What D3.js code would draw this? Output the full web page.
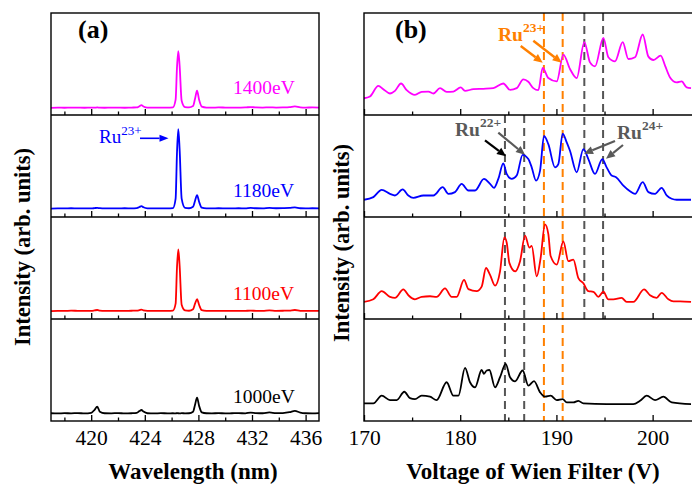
<!DOCTYPE html>
<html><head><meta charset="utf-8">
<script src="https://cdn.jsdelivr.net/npm/d3@7"></script>
<style>
body{margin:0;background:#fff}
svg{display:block}
text{font-family:"Liberation Serif","Times New Roman",serif}
</style>
</head><body>
<svg id="c" width="692" height="486"></svg>
<script>
// ---------- Panel (a) data: wavelength (nm) and normalized intensity ----------
const waveNm = [417,417.5,418,418.5,419,419.5,420,420.25,420.45,420.65,421,421.5,422,422.5,423,423.4,423.6,423.75,423.9,424.2,424.7,425.2,425.7,426.1,426.3,426.4,426.5,426.6,426.75,427.0,427.3,427.6,427.75,427.9,428.05,428.25,428.6,429,429.5,430,430.5,431,431.5,431.9,432.3,432.8,433.3,433.8,434.3,434.8,435.2,435.6,436,436.5,437];
const int1400 = [.070,.073,.071,.073,.072, .071,.073,.072,.074,.072, .071,.073,.072,.071,.073, .074,.086,.096,.084,.073, .072,.073,.072,.075,.15, .46,.627,.48,.14,.078, .075,.088,.16,.238,.15, .082,.073,.072,.074,.073, .072,.073,.074,.078,.074, .073,.075,.073,.074,.077, .084,.075,.073,.074,.073];
const int1180 = [.083,.085,.084,.086,.084, .085,.084,.087,.090,.086, .084,.085,.084,.086,.084, .087,.098,.107,.095,.085, .084,.085,.084,.087,.18, .62,.861,.66,.18,.09, .086,.10,.16,.214,.15, .092,.085,.084,.086,.085, .084,.086,.085,.090,.086, .085,.089,.086,.087,.089, .095,.086,.085,.086,.085];
const int1100 = [.078,.080,.079,.082,.080, .079,.080,.084,.088,.082, .079,.080,.079,.080,.081, .082,.087,.092,.085,.080, .079,.080,.079,.082,.15, .50,.683,.52,.14,.085, .081,.095,.15,.195,.14, .086,.080,.079,.080,.079, .080,.079,.080,.082,.080, .079,.085,.080,.081,.083, .088,.080,.079,.080,.079];
const int1000 = [.076,.074,.077,.075,.078, .074,.080,.11,.14,.09, .076,.075,.078,.074,.076, .080,.098,.108,.092,.076, .074,.077,.075,.076,.075, .077,.076,.074,.077,.075, .076,.09,.16,.228,.15, .085,.076,.075,.077,.075, .076,.077,.075,.083,.078, .076,.084,.077,.078,.086, .100,.082,.076,.075,.077];
const energyLabels = ["1400eV","1180eV","1100eV","1000eV"];
const seriesColors = ["#ff00ff","#0000ff","#ff0000","#000000"];
const waveTicks = [420,424,428,432,436];
const waveMinor = [418,422,426,430,434];

// ---------- Panel (b) data: Wien filter voltage (V) and normalized intensity ----------
const volt1400 = [170.0,170.62,171.49,172.01,172.70,173.22,173.85,174.44,175.30,175.99,176.69,177.21,177.90,178.59,179.29,180.05,180.50,181.37,182.40,183.44,184.48,185.18,185.87,186.56,187.08,187.60,188.12,188.57,189.16,190.03,190.72,191.41,192.11,192.90,193.49,194.01,194.88,195.40,196.09,196.89,197.48,198.17,198.97,199.56,200.08,200.84,201.29,201.81,202.50,203.02,203.54,203.99];
const sig1400 = [.164,.181,.286,.253,.211,.237,.309,.243,.197,.227,.230,.211,.263,.227,.230,.270,.237,.253,.257,.263,.309,.247,.263,.349,.326,.263,.243,.461,.362,.329,.592,.451,.362,.714,.516,.477,.757,.566,.526,.714,.549,.566,.789,.572,.539,.582,.484,.368,.319,.329,.270,.263];
const volt1180 = [170.0,170.97,171.84,172.70,173.22,174.02,174.61,175.13,176.17,177.21,178.18,178.77,179.46,180.15,180.85,181.54,182.47,183.10,183.51,183.96,184.48,184.83,185.35,185.87,186.49,187.08,187.43,187.88,188.30,188.71,189.16,189.85,190.20,190.65,191.07,191.41,192.11,192.80,193.32,194.01,194.77,195.22,195.74,196.20,196.96,197.65,198.17,198.97,199.56,200.25,200.94,201.46,201.98,202.50,203.19,203.99];
const sig1180 = [.169,.195,.266,.227,.211,.270,.211,.188,.211,.211,.292,.227,.244,.325,.260,.260,.373,.325,.286,.373,.526,.422,.373,.406,.610,.568,.487,.357,.455,.795,.714,.487,.519,.818,.731,.649,.438,.666,.568,.422,.568,.487,.406,.390,.308,.253,.227,.341,.244,.227,.286,.211,.179,.169,.169,.169];
const volt1100 = [170.0,170.97,171.84,172.70,173.22,174.09,174.61,175.30,175.99,176.86,177.55,178.42,179.11,179.63,180.40,180.85,181.71,182.23,182.68,183.10,183.62,184.14,184.59,184.83,185.11,185.70,186.22,186.74,187.19,187.43,187.95,188.36,188.81,189.16,189.40,190.03,190.72,191.24,191.76,192.28,192.80,193.32,193.84,194.36,194.88,195.40,195.92,196.78,197.30,197.99,199.11,199.73,200.42,200.94,201.64,202.16,202.85,203.99];
const sig1100 = [.167,.193,.273,.217,.207,.290,.233,.193,.217,.223,.217,.300,.217,.217,.383,.293,.273,.317,.500,.433,.327,.467,.800,.750,.550,.467,.567,.817,.700,.717,.417,.600,.927,.833,.617,.533,.760,.567,.583,.400,.350,.273,.267,.217,.267,.193,.193,.207,.167,.167,.290,.233,.207,.257,.193,.173,.173,.167];
const volt1000 = [170.0,170.97,171.84,172.70,173.40,174.19,174.78,175.30,175.99,176.86,177.55,178.59,179.29,179.81,180.50,181.02,181.54,182.23,182.47,182.75,183.03,183.62,184.14,184.73,185.18,185.70,186.49,187.08,187.67,188.30,188.81,189.40,190.03,190.65,191.07,191.76,192.28,192.80,195.22,197.99,198.69,199.38,200.25,201.12,201.98,203.99];
const sig1000 = [.172,.172,.248,.205,.205,.287,.224,.215,.248,.238,.205,.380,.248,.248,.521,.380,.330,.500,.462,.495,.500,.330,.429,.561,.429,.389,.495,.347,.390,.281,.238,.248,.205,.215,.182,.182,.198,.172,.165,.165,.198,.248,.205,.238,.182,.165];
const voltTicks = [170,180,190,200];
const voltMinor = [175,185,195];

// reference lines (V)
const lineOrange = [188.7,190.65];
const lineGrayLow = [184.65,186.65];
const lineGrayHigh = [192.9,194.85];

// ---------- layout ----------
const svg = d3.select("#c");
const TOP = 13, SUBH = 102, NSUB = 4, BOTTOM = TOP + SUBH*NSUB;
const A = {left:51, right:319};
const B = {left:364, right:694};

const xA = d3.scaleLinear().domain([417,437]).range([A.left, A.right]);
const xB = d3.scaleLinear().domain([170,204.3]).range([B.left, B.right]);
const yS = i => d3.scaleLinear().domain([0,1]).range([TOP+SUBH*(i+1), TOP+SUBH*i]);

const seriesA = [int1400,int1180,int1100,int1000];
const seriesB = [[volt1400,sig1400],[volt1180,sig1180],[volt1100,sig1100],[volt1000,sig1000]];

svg.append("clipPath").attr("id","ca").append("rect")
  .attr("x",A.left).attr("y",TOP).attr("width",A.right-A.left).attr("height",BOTTOM-TOP);
svg.append("clipPath").attr("id","cb").append("rect")
  .attr("x",B.left).attr("y",TOP).attr("width",B.right-B.left).attr("height",BOTTOM-TOP);

// dashed reference lines
function vdash(v, i0, i1, color){
  svg.append("line").attr("x1",xB(v)).attr("x2",xB(v))
    .attr("y1",TOP+SUBH*i0).attr("y2",TOP+SUBH*(i1+1))
    .attr("stroke",color).attr("stroke-width",2).attr("stroke-dasharray","8,5");
}
lineOrange.forEach(v=>vdash(v,0,3,"#ff8000"));
lineGrayLow.forEach(v=>vdash(v,1,3,"#555555"));
lineGrayHigh.forEach(v=>vdash(v,0,2,"#555555"));

// spectra
seriesA.forEach((s,i)=>{
  const y = yS(i);
  const line = d3.line().x((d,k)=>xA(waveNm[k])).y(d=>y(d)).curve(d3.curveMonotoneX);
  svg.append("path").attr("d",line(s)).attr("fill","none")
    .attr("stroke",seriesColors[i]).attr("stroke-width",1.8).attr("clip-path","url(#ca)");
});
seriesB.forEach(([vx,vy],i)=>{
  const y = yS(i);
  const line = d3.line().x((d,k)=>xB(vx[k])).y(d=>y(d)).curve(d3.curveMonotoneX);
  svg.append("path").attr("d",line(vy)).attr("fill","none")
    .attr("stroke",seriesColors[i]).attr("stroke-width",1.8).attr("clip-path","url(#cb)");
});

// frames & ticks
function frame(P, x, major, minor){
  for(let i=0;i<NSUB;i++){
    const yb = TOP+SUBH*(i+1);
    const gM = svg.append("g").attr("transform",`translate(0,${yb})`)
      .call(d3.axisBottom(x).tickValues(major).tickSize(-6).tickPadding(9)
        .tickFormat(i===NSUB-1 ? d3.format("d") : ""));
    gM.select(".domain").remove();
    gM.selectAll("line").attr("stroke","#000").attr("stroke-width",1.3);
    gM.selectAll("text").attr("font-size","21.5px").attr("fill","#000");
    const gm = svg.append("g").attr("transform",`translate(0,${yb})`)
      .call(d3.axisBottom(x).tickValues(minor).tickSize(-3.5).tickFormat(""));
    gm.select(".domain").remove();
    gm.selectAll("line").attr("stroke","#000").attr("stroke-width",1.3);
  }
  svg.append("rect").attr("x",P.left).attr("y",TOP).attr("width",P.right-P.left)
    .attr("height",BOTTOM-TOP).attr("fill","none").attr("stroke","#000").attr("stroke-width",1.4);
  for(let i=1;i<NSUB;i++){
    svg.append("line").attr("x1",P.left).attr("x2",P.right)
      .attr("y1",TOP+SUBH*i).attr("y2",TOP+SUBH*i).attr("stroke","#000").attr("stroke-width",1.4);
  }
}
frame(A, xA, waveTicks, waveMinor);
frame(B, xB, voltTicks, voltMinor);

// axis titles
svg.append("text").attr("x",(A.left+A.right)/2+8).attr("y",479).attr("text-anchor","middle")
  .attr("font-size","23px").attr("font-weight","bold").text("Wavelength (nm)");
svg.append("text").attr("x",533).attr("y",479).attr("text-anchor","middle")
  .attr("font-size","23px").attr("font-weight","bold").text("Voltage of Wien Filter (V)");
svg.append("text").attr("transform","translate(30,247) rotate(-90)").attr("text-anchor","middle")
  .attr("font-size","22.5px").attr("font-weight","bold").text("Intensity (arb. units)");
svg.append("text").attr("transform","translate(349,243) rotate(-90)").attr("text-anchor","middle")
  .attr("font-size","22.5px").attr("font-weight","bold").text("Intensity (arb. units)");

// panel letters
svg.append("text").attr("x",78).attr("y",38).attr("font-size","26px").attr("font-weight","bold").text("(a)");
svg.append("text").attr("x",395).attr("y",38).attr("font-size","26px").attr("font-weight","bold").text("(b)");

// energy labels
const labelY = [93.5,197,300,402.5];
energyLabels.forEach((t,i)=>{
  svg.append("text").attr("x",233).attr("y",labelY[i]).attr("font-size","19.5px")
    .attr("fill",seriesColors[i]).text(t);
});

// arrows
function arrow(x1,y1,x2,y2,color,w,hl,hw){
  const a = Math.atan2(y2-y1,x2-x1);
  const bx = x2-hl*Math.cos(a), by = y2-hl*Math.sin(a);
  svg.append("line").attr("x1",x1).attr("y1",y1).attr("x2",bx).attr("y2",by)
    .attr("stroke",color).attr("stroke-width",w);
  const px = -Math.sin(a)*hw/2, py = Math.cos(a)*hw/2;
  svg.append("path").attr("d",`M${x2},${y2}L${bx+px},${by+py}L${bx-px},${by-py}Z`).attr("fill",color);
}
function ionLabel(x,y,sup,color,bold,size,supSize,dy){
  const t = svg.append("text").attr("x",x).attr("y",y).attr("font-size",size+"px")
    .attr("fill",color).attr("font-weight",bold?"bold":"normal");
  t.append("tspan").text("Ru");
  t.append("tspan").attr("font-size",supSize+"px").attr("dy",dy).text(sup);
}
// (a) Ru23+
ionLabel(99,143.3,"23+","#0000ff",false,19,13,-8);
arrow(140,138.3,168.5,138.3,"#0000ff",1.6,9,7);
// (b) Ru23+
ionLabel(498,41,"23+","#ff8000",true,19.5,13.5,-9);
arrow(520.7,46,542.7,62.7,"#ff8000",2.4,9,8);
arrow(533.3,40.7,561.7,62.7,"#ff8000",2.4,9,8);
// Ru22+
ionLabel(455,136,"22+","#595959",true,19.5,13.5,-9);
arrow(485,140.3,506,156.3,"#000000",2.2,9,8);
arrow(498.3,132.7,525,154.7,"#595959",2.2,9,8);
// Ru24+
ionLabel(617,139,"24+","#595959",true,19.5,13.5,-9);
arrow(615,141,584,153.7,"#595959",2.2,9,8);
arrow(623,145,606,158.7,"#595959",2.2,9,8);
</script>
</body></html>
